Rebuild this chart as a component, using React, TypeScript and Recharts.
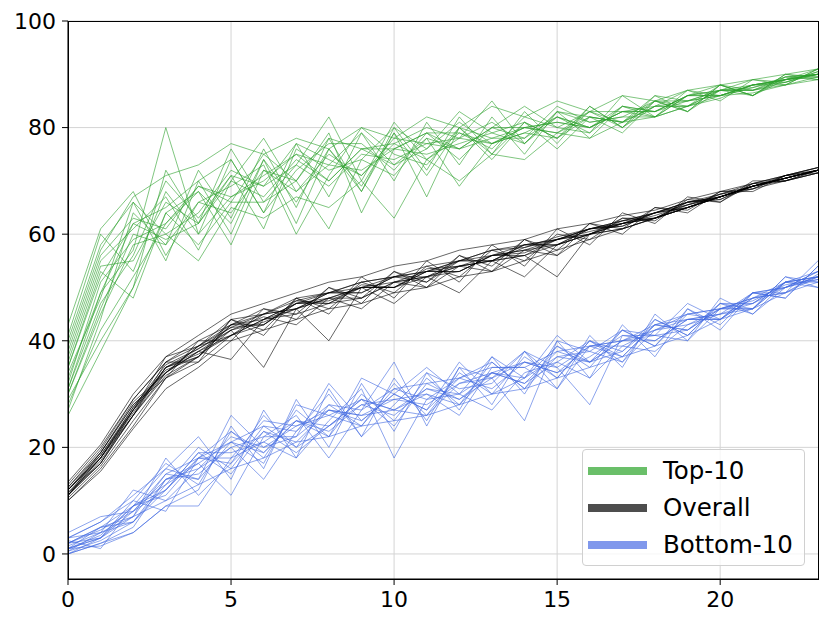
import { LineChart, Line, XAxis, YAxis, CartesianGrid } from "recharts";

// x positions 0..23
const STEPS = Array.from({ length: 24 }, (_, i) => i);

const TOP_10: number[][] = [
  [30, 46, 60, 58, 66, 64, 72, 68, 75, 71, 77, 74, 79, 77, 80, 79, 82, 81, 84, 84, 87, 87, 89, 90],
  [36, 54, 55, 66, 62, 70, 67, 74, 70, 76, 73, 78, 76, 80, 78, 82, 80, 83, 83, 86, 86, 88, 88.5, 90.5],
  [28, 42, 52, 62, 68, 62, 74, 66, 76, 68, 79, 67, 80, 75, 81, 78, 83, 80, 85, 83, 88, 86, 89.5, 89],
  [40, 58, 66, 60, 64, 72, 69, 73, 69, 75, 74, 77, 78, 77, 80, 81, 80, 83, 84, 85, 86, 88, 89, 91],
  [33, 49, 57, 80, 60, 67, 71, 75, 73, 72, 76, 75, 77, 79, 77, 83, 81, 82, 82, 86, 87, 87, 88, 89.5],
  [26, 38, 50, 64, 58, 66, 66, 70, 61, 74, 71, 78, 69, 77, 79, 78, 82, 81, 84, 84, 85.5, 88, 89, 90],
  [35, 52, 62, 65, 70, 74, 64, 72, 77, 77, 72, 79, 79, 76, 82, 80, 79, 84, 83, 86, 87, 87.5, 89.5, 90],
  [43, 61, 68, 56, 66, 69, 73, 60, 71, 80, 75, 73, 80, 78, 78, 84, 81, 82, 85, 85, 86, 88, 88, 91],
  [31, 47, 56, 70, 63, 71, 69, 77, 74, 71, 78, 77, 76, 80, 80, 79, 83, 83, 82, 86, 88, 86, 90, 89.5],
  [38, 56, 63, 61, 69, 66, 75, 70, 78, 76, 77, 80, 78, 81, 77, 83, 82, 81, 85, 84, 87, 89, 88.5, 90],
  [27, 44, 64, 58, 72, 63, 76, 65, 78, 68, 80, 72, 82, 75, 83, 77, 84, 80, 86, 83, 88, 86, 90, 89],
  [41, 60, 53, 68, 60, 74, 64, 77, 67, 79, 70, 81, 73, 82, 75, 83, 78, 84, 82, 87, 85, 89, 88, 91],
  [34, 48, 66, 55, 70, 60, 74, 62, 76, 69, 79, 71, 80, 74, 81, 76, 82, 79, 85, 83, 87, 86, 89, 90],
  [29, 40, 50, 72, 62, 76, 66, 73, 82, 70, 81, 74, 78, 85, 77, 82, 79, 86, 82, 84, 88, 87, 88.5, 90.5],
  [37, 55, 61, 67, 57, 70, 78, 68, 73, 79, 73, 76, 83, 79, 81, 78, 84, 80, 84, 87, 86, 88, 89, 89.5],
  [32, 51, 59, 62, 69, 67, 70, 75, 70, 76, 76, 79, 76, 78, 80, 81, 80, 83, 83, 85, 87, 87, 89.5, 90],
  [30, 45, 58, 60, 55, 65, 63, 67, 65, 70, 63, 74, 70, 75, 74, 79, 78, 81, 82, 84, 86, 86.5, 88, 89],
  [39, 57, 67, 71, 73, 77, 75, 78, 76, 80, 78, 82, 80, 84, 82, 85, 83, 86, 85, 87, 88, 89, 90, 91],
  [35, 53, 48, 64, 68, 58, 72, 70, 79, 64, 76, 79, 74, 80, 84, 80, 83, 81, 86, 85, 87, 88, 89, 90],
  [31, 49, 62, 59, 62, 71, 61, 76, 72, 74, 80, 76, 81, 77, 79, 82, 80, 84, 83, 86, 86, 87.5, 89, 90],
];

const OVERALL: number[][] = [
  [11, 17, 26, 35, 37, 43, 43, 47, 47, 50, 50, 53, 53, 56, 56, 59, 60, 62.5, 63, 66, 66.5, 69, 70.5, 72],
  [12, 19, 28, 34, 39, 41, 45, 46, 49, 49, 52, 52, 55, 55, 58, 58, 61, 61.5, 64, 65, 67.5, 68.5, 71, 72],
  [10.5, 16.5, 25, 33, 37, 44, 42, 48, 46, 51, 49, 54, 52, 57, 55, 60, 59, 63, 62.5, 66.5, 66, 69.5, 70, 71.5],
  [13, 20, 29, 36, 40, 43, 46, 45, 50, 48, 53, 51, 56, 54, 59, 57, 62, 61, 65, 64.5, 68, 68, 71, 72.5],
  [11.5, 18, 27, 35, 38, 36.5, 44, 47, 48, 50, 51, 53, 54, 56, 57, 59, 60.5, 62, 63.5, 65.5, 67, 69, 70.5, 72],
  [12.5, 19, 28.5, 34, 38, 42, 35, 46, 40, 50, 47, 52, 49, 55, 52, 58, 60, 61, 63, 65, 67, 69, 70, 71.5],
  [10, 16, 24, 33, 36, 41, 44, 45, 47, 48, 51, 52, 54, 55, 56, 52, 60, 62, 64, 66, 67, 69, 70.5, 72],
  [11, 18, 27, 37, 39, 43, 45, 48, 49, 51, 52, 53, 55, 57, 58, 59, 61, 62, 63, 65, 67, 69, 70.5, 72],
  [12, 18.5, 27.5, 35.5, 38.5, 42.5, 45, 46, 49, 49, 52, 51, 55, 55, 58, 58, 61, 62, 64, 65, 67, 69, 71, 72],
  [11, 17.5, 26, 34, 38, 41, 43, 47, 47.5, 50, 50, 53, 53, 56, 56.5, 59, 60, 63, 63, 66, 66.5, 69.5, 70, 72],
  [10, 15.5, 23.5, 31, 35, 40, 42, 44, 46, 47, 49, 50, 52, 53, 55, 57, 59, 61, 63, 65, 67, 69, 70.5, 72],
  [13.5, 20.5, 30, 37, 41, 45, 47, 49, 51, 52, 54, 55, 57, 58, 59, 61, 62, 63.5, 64.5, 66.5, 68, 69.5, 71, 72.5],
  [12, 18, 26, 36, 36, 44, 41, 48, 45, 52, 48, 55, 51, 58, 54, 61, 58, 64, 62, 67, 66, 70, 70, 72],
  [11, 19, 28, 33, 40, 40, 46, 44, 50, 47, 53, 50, 56, 53, 59, 56, 62, 60, 65, 64, 68, 68.5, 71, 71.5],
  [11.5, 17, 27, 35, 38.5, 42, 44.5, 43, 48, 46, 51, 50, 54, 53, 57, 56, 60, 61, 63, 65, 67, 69, 70.5, 72],
  [12, 18, 27.5, 34.5, 37, 43, 44, 47, 49, 50, 52, 53, 55, 56, 58, 59, 61, 62.5, 64, 65.5, 67.5, 69, 70.5, 72],
  [11, 17, 26, 33.5, 37, 42, 43.5, 46, 48, 50, 50, 52, 54, 55, 56, 58, 60, 62, 63, 65.5, 67, 69, 70.5, 72],
  [12.5, 19.5, 29, 36, 39, 44, 45, 47.5, 49, 51, 52, 54, 55, 57, 57.5, 59.5, 61, 62.5, 64, 66, 67.5, 69.5, 71, 72.5],
  [11, 18, 26.5, 35, 37.5, 41, 44, 46, 48, 48, 51, 52, 53, 56, 57, 58, 60, 62, 63, 65, 67, 68.5, 70, 71.5],
  [12, 18.5, 27, 34, 39, 42.5, 43, 47.5, 47, 50.5, 50, 53.5, 54, 55, 57.5, 59, 61, 61.5, 64, 66, 67, 69, 70.5, 72],
];

const BOTTOM_10: number[][] = [
  [1, 3, 7, 15, 14, 21, 19, 25, 23, 28, 26, 31, 29, 34, 32, 38, 36, 40, 40, 44, 44, 48, 49, 52],
  [2, 5, 9, 11, 18, 17, 23, 21, 27, 25, 30, 27, 33, 31, 36, 34, 39, 37, 43, 42, 46, 46, 51, 51],
  [0.5, 2.5, 6, 13, 20, 16, 24, 20, 28, 24, 32, 26, 34, 30, 37, 33, 40, 36, 44, 41, 47, 45, 50, 53],
  [3, 6, 10, 17, 13, 23, 18, 27, 22, 30, 25, 33, 28, 36, 31, 39, 35, 42, 39, 46, 43, 49, 48, 54],
  [1.5, 4, 12, 10, 16, 20, 14, 23, 30, 22, 28, 34, 31, 32, 38, 35, 28, 41, 41, 42, 47, 47, 51, 52],
  [0, 2, 5, 14, 17, 11, 22, 26, 18, 27, 36, 24, 35, 33, 25, 40, 38, 36, 42, 45, 44, 49, 50, 51.5],
  [4, 7, 8, 12, 19, 19, 21, 18, 25, 31, 18, 29, 30, 27, 34, 36, 33, 39, 38, 43, 45, 46, 52, 50],
  [1, 1.5, 4, 9, 9, 18, 25, 24, 27, 26, 27, 30, 26, 35, 35, 31, 39, 40, 41, 40, 46, 48, 49, 55],
  [2, 4.5, 8, 14, 16, 22, 20, 24, 26, 29, 27, 31, 30, 34, 33, 37, 36, 40, 42, 44, 45, 47, 50, 52],
  [1, 3.5, 9, 12, 18, 18, 21, 25, 24, 28, 29, 28, 32, 33, 36, 35, 39, 39, 42, 43, 46, 47.5, 50.5, 51.5],
  [0, 2, 4, 9, 12, 24, 16, 29, 20, 32, 23, 34, 27, 37, 30, 40, 33, 43, 37, 46, 42, 49, 48, 54],
  [3, 6, 11, 16, 22, 14, 27, 18, 31, 22, 33, 25, 35, 28, 38, 31, 41, 35, 45, 40, 48, 45, 51, 50],
  [1, 5, 6, 14, 15, 20, 22, 22, 27, 26, 29, 30, 28, 34, 36, 34, 37, 41, 40, 44, 44, 48, 50, 53],
  [2, 3, 10, 8, 18, 23, 19, 25, 22, 33, 30, 27, 36, 30, 33, 39, 36, 38, 44, 41, 47, 46, 52, 51],
  [0.5, 4, 7, 18, 11, 17, 26, 20, 24, 29, 24, 32, 29, 33, 38, 33, 40, 37, 43, 44, 45, 49, 49, 52.5],
  [2.5, 1, 9, 13, 17, 21, 17, 28, 26, 24, 31, 29, 33, 36, 31, 37, 38, 42, 39, 45, 46, 46, 51, 52],
  [1, 3, 8, 15, 18, 21, 24, 23, 28, 27, 31, 32, 33, 35, 35, 38, 39, 40, 43, 45, 46, 48, 51, 53],
  [2, 5, 7, 10, 13, 16, 18, 21, 22, 24, 25, 26, 28, 30, 31, 33, 35, 37, 39, 41, 44, 46, 49, 51],
  [0, 3, 9, 16, 14, 26, 20, 22, 32, 25, 30, 35, 30, 37, 33, 41, 36, 42, 41, 47, 44, 49, 50, 52],
  [3, 4, 6, 12, 19, 15, 23, 19, 24, 29, 27, 26, 32, 34, 32, 36, 40, 38, 43, 42, 46, 47, 51, 52],
];

const X_TICKS = [0, 5, 10, 15, 20];
const Y_TICKS = [0, 20, 40, 60, 80, 100];

const GROUPS = [
  { key: "t", runs: TOP_10, color: "#2ca02c", label: "Top-10", swatch: "#6abf69" },
  { key: "o", runs: OVERALL, color: "#000000", label: "Overall", swatch: "#4d4d4d" },
  { key: "b", runs: BOTTOM_10, color: "#4169e1", label: "Bottom-10", swatch: "#8098ec" },
];

const rows = STEPS.map((x, i) => {
  const row: Record<string, number> = { x };
  GROUPS.forEach((g) => g.runs.forEach((r, j) => (row[`${g.key}${j}`] = r[i])));
  return row;
});

const FONT = "'DejaVu Sans', sans-serif";

export default function App() {
  return (
    <div style={{ position: "absolute", left: 0, top: 0, width: 830, height: 626, background: "#fff" }}>
      <LineChart width={830} height={626} data={rows} margin={{ top: 21, right: 12, bottom: 17, left: 0 }}>
        <CartesianGrid stroke="#d4d4d4" strokeWidth={1} horizontalValues={Y_TICKS} verticalValues={X_TICKS} />
        <XAxis
          dataKey="x"
          type="number"
          domain={[0, 23]}
          ticks={X_TICKS}
          allowDataOverflow
          height={30}
          tickSize={6}
          tickMargin={6}
          stroke="#000"
          tick={{ fontSize: 22, fill: "#000", fontFamily: FONT }}
        />
        <YAxis
          type="number"
          domain={[-4.7, 100]}
          ticks={Y_TICKS}
          allowDataOverflow
          width={68}
          tickSize={6}
          tickMargin={6}
          stroke="#000"
          tick={{ fontSize: 22, fill: "#000", fontFamily: FONT }}
        />
        {GROUPS.map((g) =>
          g.runs.map((_, j) => (
            <Line
              key={`${g.key}${j}`}
              dataKey={`${g.key}${j}`}
              stroke={g.color}
              strokeOpacity={0.6}
              strokeWidth={1}
              dot={false}
              activeDot={false}
              isAnimationActive={false}
            />
          ))
        )}
      </LineChart>
      <div
        style={{
          position: "absolute",
          left: 68,
          top: 21,
          width: 751,
          height: 559,
          border: "1px solid #000",
          boxSizing: "border-box",
          pointerEvents: "none",
        }}
      />
      <div
        style={{
          position: "absolute",
          left: 582,
          top: 449,
          width: 223,
          height: 117,
          boxSizing: "border-box",
          border: "1px solid #d0d0d0",
          borderRadius: 4,
          background: "rgba(255,255,255,0.8)",
          fontFamily: FONT,
          fontSize: 24.5,
          color: "#000",
          paddingTop: 2,
        }}
      >
        {GROUPS.map((g) => (
          <div key={g.key} style={{ display: "flex", alignItems: "center", height: 37 }}>
            <div style={{ width: 59, height: 8, background: g.swatch, marginLeft: 5, marginRight: 16 }} />
            <span>{g.label}</span>
          </div>
        ))}
      </div>
    </div>
  );
}
